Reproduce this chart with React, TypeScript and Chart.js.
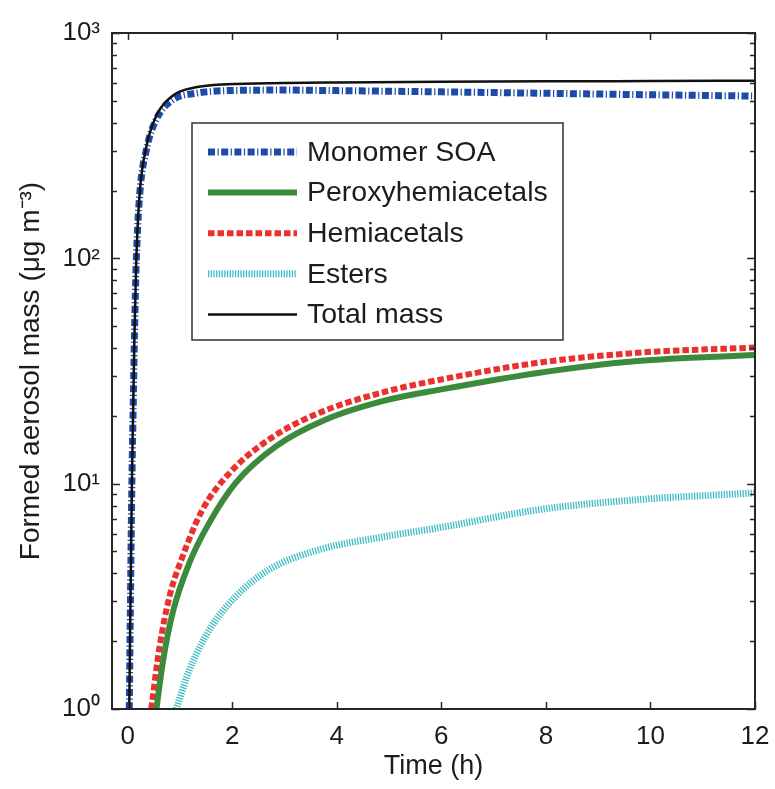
import React, { useEffect, useRef } from "react";
import { Chart, registerables } from "chart.js";

Chart.register(...registerables);

// ---- data ----
const TOTAL_T = [0.03, 0.08, 0.11, 0.13, 0.165, 0.23, 0.36, 0.55, 0.86, 1.3, 1.9, 3, 4, 6, 8, 10, 12];
const TOTAL_V = [1.0, 10, 25, 46, 99, 195, 315, 430, 527, 574, 593, 600, 603, 607, 610, 612, 614];

const MONO_T = [0.03, 0.08, 0.11, 0.13, 0.165, 0.23, 0.36, 0.55, 0.86, 1.3, 1.9, 3, 4, 6, 8, 10, 12];
const MONO_V = [1.0, 10, 25, 46, 98, 192, 305, 415, 505, 540, 555, 558, 555, 548, 540, 532, 525];

const PEROXY_T = [0.55, 0.67, 0.86, 1.18, 1.56, 2.07, 2.83, 3.78, 4.93, 6.0, 7.85, 9.75, 12];
const PEROXY_V = [1.0, 1.6, 2.67, 4.45, 6.7, 10.1, 14.6, 19.2, 23.4, 26.2, 31, 35, 37.2];

const HEMI_T = [0.45, 0.61, 0.8, 1.05, 1.43, 1.94, 2.7, 3.66, 4.93, 6.0, 7.85, 9.75, 12];
const HEMI_V = [1.0, 1.89, 3.16, 4.75, 7.66, 11.1, 15.7, 20.6, 25.6, 29.0, 34.4, 38.1, 40.2];

const ESTER_T = [0.93, 1.18, 1.56, 2.07, 2.7, 3.66, 4.93, 6.0, 7.85, 9.75, 12];
const ESTER_V = [1.0, 1.49, 2.24, 3.16, 4.15, 5.09, 5.83, 6.4, 7.66, 8.49, 9.1];

const X_TICKS = [0, 2, 4, 6, 8, 10, 12];
const Y_TICKS = [1, 10, 100, 1000];
const Y_TICK_LABELS = ["10⁰", "10¹", "10²", "10³"];
const MINOR_MANTISSAS = [2, 3, 4, 5, 6, 7, 8, 9];

const LEGEND_ORDER = ["Monomer SOA", "Peroxyhemiacetals", "Hemiacetals", "Esters", "Total mass"];

const FONT = '"Liberation Sans", Arial, Helvetica, sans-serif';
const INK = "#1c1c1c";

const pts = (t: number[], v: number[]) => t.map((x, i) => ({ x, y: v[i] }));

const boxTicksPlugin = {
  id: "boxTicks",
  afterDatasetsDraw(chart: any) {
    const { ctx, chartArea: ca, scales } = chart;
    const xs = scales.x;
    const ys = scales.y;
    ctx.save();
    ctx.strokeStyle = "#262626";
    ctx.lineWidth = 1.5;
    ctx.beginPath();
    for (const v of X_TICKS) {
      const px = Math.round(xs.getPixelForValue(v)) + 0.5;
      ctx.moveTo(px, ca.bottom);
      ctx.lineTo(px, ca.bottom - 7);
      ctx.moveTo(px, ca.top);
      ctx.lineTo(px, ca.top + 7);
    }
    for (const major of Y_TICKS) {
      const py = Math.round(ys.getPixelForValue(major)) + 0.5;
      ctx.moveTo(ca.left, py);
      ctx.lineTo(ca.left + 8, py);
      ctx.moveTo(ca.right, py);
      ctx.lineTo(ca.right - 8, py);
      if (major < 1000) {
        for (const m of MINOR_MANTISSAS) {
          const pm = Math.round(ys.getPixelForValue(major * m)) + 0.5;
          ctx.moveTo(ca.left, pm);
          ctx.lineTo(ca.left + 5, pm);
          ctx.moveTo(ca.right, pm);
          ctx.lineTo(ca.right - 5, pm);
        }
      }
    }
    ctx.stroke();
    ctx.lineWidth = 2;
    ctx.strokeRect(ca.left, ca.top, ca.right - ca.left, ca.bottom - ca.top);
    ctx.restore();
  },
};

const legendPlugin = {
  id: "insideLegend",
  afterDraw(chart: any) {
    const { ctx, chartArea: ca } = chart;
    const left = ca.left + 80;
    const top = ca.top + 90;
    const w = 371;
    const h = 217;
    ctx.save();
    ctx.fillStyle = "#ffffff";
    ctx.fillRect(left, top, w, h);
    ctx.strokeStyle = "#333333";
    ctx.lineWidth = 1.5;
    ctx.strokeRect(left, top, w, h);
    ctx.font = `28.5px ${FONT}`;
    ctx.textBaseline = "middle";
    ctx.textAlign = "left";
    LEGEND_ORDER.forEach((label, i) => {
      const ds = chart.data.datasets.find((d: any) => d.label === label);
      if (!ds) return;
      const y = top + 29 + i * 40.6;
      ctx.save();
      ctx.strokeStyle = ds.borderColor;
      ctx.lineWidth = ds.borderWidth;
      ctx.setLineDash(ds.borderDash || []);
      ctx.lineCap = "butt";
      ctx.beginPath();
      ctx.moveTo(left + 16, y);
      ctx.lineTo(left + 105, y);
      ctx.stroke();
      ctx.restore();
      ctx.fillStyle = INK;
      ctx.fillText(label, left + 115, y + 1);
    });
    ctx.restore();
  },
};

export default function App() {
  const ref = useRef<HTMLCanvasElement | null>(null);

  useEffect(() => {
    if (!ref.current) return;
    const common = {
      pointRadius: 0,
      pointHoverRadius: 0,
      fill: false,
      cubicInterpolationMode: "monotone" as const,
      clip: 0,
      borderCapStyle: "butt" as const,
    };
    const chart = new Chart(ref.current, {
      type: "line",
      data: {
        datasets: [
          { ...common, label: "Total mass", data: pts(TOTAL_T, TOTAL_V), borderColor: "#111111", borderWidth: 2.5 },
          { ...common, label: "Monomer SOA", data: pts(MONO_T, MONO_V), borderColor: "#1f4ba8", borderWidth: 7, borderDash: [7, 2.5, 1.2, 2.5] },
          { ...common, label: "Peroxyhemiacetals", data: pts(PEROXY_T, PEROXY_V), borderColor: "#3c8a3c", borderWidth: 6 },
          { ...common, label: "Hemiacetals", data: pts(HEMI_T, HEMI_V), borderColor: "#ea3130", borderWidth: 6, borderDash: [6.5, 3] },
          { ...common, label: "Esters", data: pts(ESTER_T, ESTER_V), borderColor: "#3dbcc6", borderWidth: 7, borderDash: [1.3, 1.4] },
        ],
      },
      options: {
        responsive: false,
        animation: false,
        events: [],
        layout: { padding: { top: 33, right: 20, left: 0, bottom: 0 } },
        plugins: { legend: { display: false }, tooltip: { enabled: false } },
        scales: {
          x: {
            type: "linear",
            min: -0.3,
            max: 12,
            grid: { display: false, drawTicks: false },
            border: { display: false },
            afterBuildTicks: (s: any) => {
              s.ticks = X_TICKS.map((v) => ({ value: v }));
            },
            afterFit: (s: any) => {
              s.height = 80;
              s.paddingLeft = 0;
              s.paddingRight = 0;
            },
            ticks: { autoSkip: false, maxRotation: 0, padding: 12, color: INK, font: { family: FONT, size: 26 }, callback: (v: any) => String(v) },
            title: { display: true, text: "Time (h)", color: INK, font: { family: FONT, size: 27 }, padding: { top: 0, bottom: 6 } },
          },
          y: {
            type: "logarithmic",
            min: 1,
            max: 1000,
            grid: { display: false, drawTicks: false },
            border: { display: false },
            afterBuildTicks: (s: any) => {
              s.ticks = Y_TICKS.map((v) => ({ value: v, major: true }));
            },
            afterFit: (s: any) => {
              s.width = 112;
              s.paddingTop = 0;
              s.paddingBottom = 0;
            },
            ticks: {
              autoSkip: false,
              padding: 12,
              color: INK,
              font: { family: FONT, size: 26 },
              callback: (v: any) => {
                const i = Y_TICKS.indexOf(Number(v));
                return i >= 0 ? Y_TICK_LABELS[i] : "";
              },
            },
            title: { display: true, text: "Formed aerosol mass (μg m⁻³)", color: INK, font: { family: FONT, size: 28 }, padding: { top: 14, bottom: 0 } },
          },
        },
      },
      plugins: [boxTicksPlugin, legendPlugin],
    } as any);
    return () => chart.destroy();
  }, []);

  return (
    <div style={{ position: "fixed", left: 0, top: 0, width: 775, height: 789, background: "#ffffff" }}>
      <canvas ref={ref} width={775} height={789} style={{ display: "block", width: 775, height: 789 }} />
    </div>
  );
}
